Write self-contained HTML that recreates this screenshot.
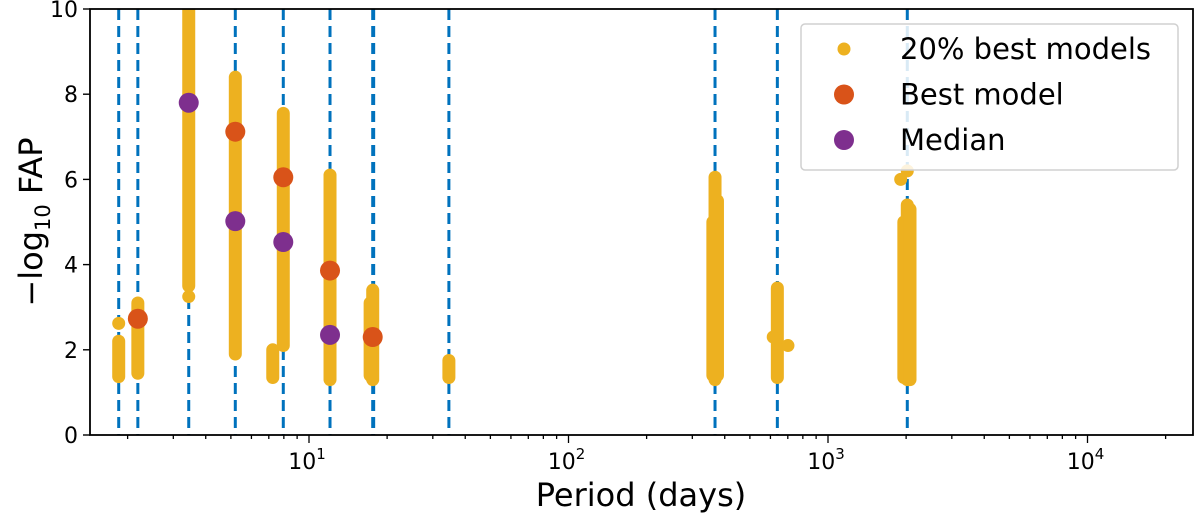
<!DOCTYPE html>
<html><head><meta charset="utf-8"><style>
body{margin:0;background:#fff;font-family:"Liberation Sans","DejaVu Sans",sans-serif}
svg text{font-family:"DejaVu Sans","Liberation Sans",sans-serif}
</style></head><body>
<svg id="c" width="1200" height="515" xmlns="http://www.w3.org/2000/svg"></svg>
<script>
const linePeriods=[1.848,2.19,3.44,5.2,7.96,12.05,17.6,17.75,34.6,367,638,2021];
const clusterPeriods=[1.848,2.19,3.44,5.2,7.25,7.96,12.05,17.6,17.2,34.6,367,360,375,638,2021,1960,2070];
const clusterMin=[1.37,1.45,3.5,1.9,1.35,2.1,1.3,1.3,1.4,1.35,1.3,1.4,1.4,1.35,1.3,1.35,1.3];
const clusterMax=[2.2,3.1,10.2,8.4,2.0,7.55,6.1,3.4,3.1,1.75,6.05,5.0,5.5,3.45,5.4,5.0,5.3];
const extraPeriods=[1.848,3.44,701,1906,2021,615];
const extraValues=[2.62,3.25,2.1,6.0,6.2,2.3];
const bestPeriods=[2.19,5.2,7.96,12.05,17.6];
const bestValues=[2.73,7.12,6.05,3.86,2.3];
const medPeriods=[3.44,5.2,7.96,12.05];
const medValues=[7.8,5.02,4.53,2.35];
const yTicks=[0,2,4,6,8,10];
const xDecades=[1,2,3,4];

const L=90,R=1193,T=9,B=435;
const x0=49.5,dec=259.5;
const X=p=>x0+Math.log10(p)*dec;
const Y=v=>B-(v/10)*(B-T);
const svg=document.getElementById('c');
const NS='http://www.w3.org/2000/svg';
function mk(tag,attrs,parent){const e=document.createElementNS(NS,tag);for(const k in attrs)e.setAttribute(k,attrs[k]);(parent||svg).appendChild(e);return e;}
const clip=mk('clipPath',{id:'pc'});mk('rect',{x:L,y:T,width:R-L,height:B-T},clip);
const plot=mk('g',{'clip-path':'url(#pc)'});


linePeriods.forEach(p=>{const l=mk('line',{x1:X(p),x2:X(p),y1:T,y2:B,stroke:'#0072bd','stroke-width':3,'stroke-dasharray':'11,6'},plot);

});
clusterPeriods.forEach((p,i)=>{const l=mk('line',{x1:X(p),x2:X(p),y1:Y(clusterMin[i]),y2:Y(clusterMax[i]),stroke:'#edb120','stroke-width':13,'stroke-linecap':'round'},plot);

});
extraPeriods.forEach((p,i)=>{const c=mk('circle',{cx:X(p),cy:Y(extraValues[i]),r:6.5,fill:'#edb120'},plot);

});
bestPeriods.forEach((p,i)=>{const c=mk('circle',{cx:X(p),cy:Y(bestValues[i]),r:10,fill:'#d95319'},plot);

});
medPeriods.forEach((p,i)=>{const c=mk('circle',{cx:X(p),cy:Y(medValues[i]),r:10,fill:'#7e2f8e'},plot);

});
const fr=mk('rect',{x:L,y:T,width:R-L,height:B-T,fill:'none',stroke:'#000','stroke-width':1.8});


yTicks.forEach(v=>{mk('line',{x1:L-7,x2:L,y1:Y(v),y2:Y(v),stroke:'#000','stroke-width':1.4});
const t=mk('text',{x:L-12,y:Y(v)+8,'text-anchor':'end','font-size':22});t.textContent=v;

});
for(let d=0;d<=4;d++){for(let m=1;m<=9;m++){const xx=X(m*Math.pow(10,d));if(xx<L||xx>R)continue;
mk('line',{x1:xx,x2:xx,y1:B,y2:B+(m===1?8:4),stroke:'#000','stroke-width':1.3});}}
xDecades.forEach(d=>{const t=mk('text',{x:X(Math.pow(10,d))-2,y:469,'text-anchor':'middle','font-size':22});


t.innerHTML='10<tspan dy="-10" font-size="15">'+d+'</tspan>';});
const xl=mk('text',{x:641,y:506,'text-anchor':'middle','font-size':32});xl.textContent='Period (days)';


const yl=mk('text',{x:0,y:0,'text-anchor':'middle','font-size':32,transform:'translate(42,222) rotate(-90)'});
yl.innerHTML='−log<tspan dy="8" font-size="21">10</tspan><tspan dy="-8"> FAP</tspan>';


const lg=mk('g',{});


mk('rect',{x:801,y:24,width:377,height:146,rx:4,fill:'rgba(255,255,255,0.85)',stroke:'#d0d0d0','stroke-width':1.5},lg);
const items=[['20% best models','#edb120',6.5],['Best model','#d95319',10],['Median','#7e2f8e',10]];
items.forEach((it,i)=>{const yy=49+i*45.5;mk('circle',{cx:844,cy:yy,r:it[2],fill:it[1]},lg);
const t=mk('text',{x:900,y:yy+10,'font-size':29},lg);t.textContent=it[0];

});
</script>
</body></html>
